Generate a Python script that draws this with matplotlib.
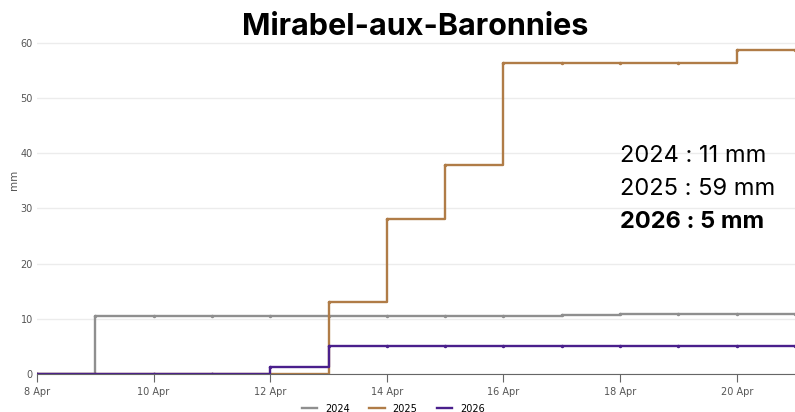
import numpy as np
import pandas as pd
import matplotlib
matplotlib.use("Agg")
import matplotlib.pyplot as plt
import matplotlib.dates as mdates

# cumulative rainfall (mm), one value per day from 8 Apr to 21 Apr
days = pd.date_range("2026-04-08", "2026-04-21", freq="D")
rain_2024 = [0, 10.5, 10.5, 10.5, 10.5, 10.5, 10.5, 10.5, 10.5, 10.7, 10.9, 10.9, 10.9, 10.9]
rain_2025 = [0, 0, 0, 0, 0, 13.1, 28.1, 37.9, 56.3, 56.3, 56.3, 56.3, 58.6, 58.6]
rain_2026 = [0, 0, 0, 0, 1.3, 5.1, 5.1, 5.1, 5.1, 5.1, 5.1, 5.1, 5.1, 5.1]

years = ["2024", "2025", "2026"]
colors = ["#8f8f8f", "#b07c47", "#4a1f8c"]
totals = ["2024 : 11 mm", "2025 : 59 mm", "2026 : 5 mm"]

fig = plt.figure(figsize=(7.95, 4.12), dpi=100)
ax = fig.add_axes([37 / 795, 38 / 412, 1 - 37 / 795, (374 - 40) / 412])

for vals, year, col in zip([rain_2024, rain_2025, rain_2026], years, colors):
    ax.plot(days, vals, drawstyle="steps-post", color=col, lw=1.7, label=year,
            marker="o", markersize=1.5)

ax.set_xlim(days[0], days[-1])
ax.set_ylim(0, 60.5)
ax.set_yticks([0, 10, 20, 30, 40, 50, 60])
ax.xaxis.set_major_locator(mdates.DayLocator(bymonthday=[8, 10, 12, 14, 16, 18, 20]))
ax.xaxis.set_major_formatter(mdates.DateFormatter("%-d %b"))

ax.grid(axis="y", color="#ececec", lw=1)
ax.set_axisbelow(True)
for s in ["top", "right", "left"]:
    ax.spines[s].set_visible(False)
ax.spines["bottom"].set_color("#666666")
ax.tick_params(axis="x", colors="#666666", labelsize=7, length=6, labelcolor="#555555")
ax.tick_params(axis="y", length=0, labelsize=7, labelcolor="#555555", pad=3)
ax.set_ylabel("mm", fontsize=7.5, color="#555555")
ax.yaxis.set_label_coords(-0.024, 0.58)

fig.text(415 / 795, 1 - 27 / 412, "Mirabel-aux-Baronnies", ha="center", va="center",
         fontsize=22, fontweight="bold", family="Inter")

for i, t in enumerate(totals):
    fig.text(620 / 795, 1 - (156 + 33 * i) / 412, t, fontsize=17, family="Inter",
             va="center", fontweight="bold" if i == 2 else "normal")

leg = ax.legend(loc="lower center", bbox_to_anchor=(0.47, -0.13), ncol=3,
                frameon=False, fontsize=7, handlelength=1.6, columnspacing=2,
                borderaxespad=0)
for line in leg.get_lines():
    line.set_marker("")

fig.savefig("out.png", dpi=100)
